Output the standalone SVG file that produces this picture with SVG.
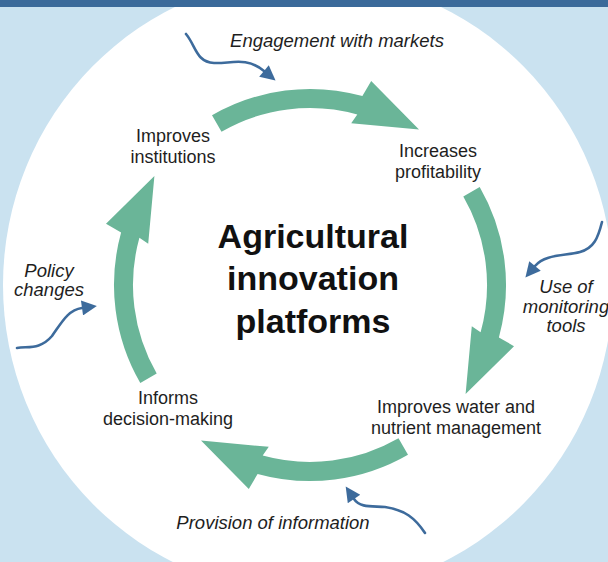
<svg xmlns="http://www.w3.org/2000/svg" xmlns:xlink="http://www.w3.org/1999/xlink" width="608" height="562" viewBox="0 0 608 562">
  <style>
    .lbl { font-family: "Liberation Sans", Arial, sans-serif; font-size: 18px; fill: #1e1e1e; text-anchor: middle; }
    .ital { font-family: "Liberation Sans", Arial, sans-serif; font-size: 18.5px; font-style: italic; fill: #1e1e1e; text-anchor: middle; }
    .title { font-family: "Liberation Sans", Arial, sans-serif; font-size: 34px; font-weight: bold; fill: #111; text-anchor: middle; }
    .cycle { fill: #6ab598; }
    .wave { fill: none; stroke: #3d6b9c; stroke-width: 2.6; stroke-linecap: round; }
  </style>
  <defs>
    <marker id="head" viewBox="0 0 10 10" refX="0" refY="5" markerUnits="userSpaceOnUse" markerWidth="17" markerHeight="15" orient="auto">
      <path d="M0,0 L10,5 L0,10 z" fill="#3d6b9c"/>
    </marker>
    <path id="cyc" d="M212,115.3 A196,196 0 0 1 362.4,96.1 L371.2,81 L419,129.4 L351.2,123.2 L357.3,114.4 A177,177 0 0 0 221.5,131.7 Z"/>
  </defs>

  <rect x="0" y="0" width="608" height="562" fill="#cae2f0"/>
  <ellipse cx="308" cy="285" rx="305" ry="309" fill="#ffffff"/>
  <rect x="0" y="0" width="608" height="7" fill="#3b6a9a"/>

  <g id="connectors">
    <use xlink:href="#cyc" class="cycle"/>
    <use xlink:href="#cyc" class="cycle" transform="rotate(90 310 285)"/>
    <use xlink:href="#cyc" class="cycle" transform="rotate(180 310 285)"/>
    <use xlink:href="#cyc" class="cycle" transform="rotate(270 310 285)"/>
    <path class="wave" marker-end="url(#head)" d="M186,34 C196,46 196,62 214,63 C230,64 246,56 264,71"/>
    <path class="wave" marker-end="url(#head)" d="M602,222 C598,238 594,248 580,252 C565,256 545,254 535,266"/>
    <path class="wave" marker-end="url(#head)" d="M17,348 C28,346 40,350 52,336 C62,322 68,310 82,308"/>
    <path class="wave" marker-end="url(#head)" d="M425,533 C415,518 405,510 385,507 C372,506 360,508 354,499"/>
  </g>

  <g id="title">
    <text class="title" x="313" y="248">Agricultural</text>
    <text class="title" x="313" y="290">innovation</text>
    <text class="title" x="313" y="333">platforms</text>
  </g>

  <g id="node-institutions">
    <text class="lbl" x="173" y="142">Improves</text>
    <text class="lbl" x="173" y="163">institutions</text>
  </g>
  <g id="node-profitability">
    <text class="lbl" x="438" y="157">Increases</text>
    <text class="lbl" x="438" y="178">profitability</text>
  </g>
  <g id="node-water">
    <text class="lbl" x="456" y="413">Improves water and</text>
    <text class="lbl" x="456" y="434">nutrient management</text>
  </g>
  <g id="node-decision">
    <text class="lbl" x="168" y="404">Informs</text>
    <text class="lbl" x="168" y="425">decision-making</text>
  </g>

  <g id="input-markets">
    <text class="ital" x="337" y="47">Engagement with markets</text>
  </g>
  <g id="input-monitoring">
    <text class="ital" x="566" y="293">Use of</text>
    <text class="ital" x="566" y="313">monitoring</text>
    <text class="ital" x="566" y="332">tools</text>
  </g>
  <g id="input-policy">
    <text class="ital" x="49" y="277">Policy</text>
    <text class="ital" x="49" y="296">changes</text>
  </g>
  <g id="input-information">
    <text class="ital" x="273" y="529">Provision of information</text>
  </g>
</svg>
